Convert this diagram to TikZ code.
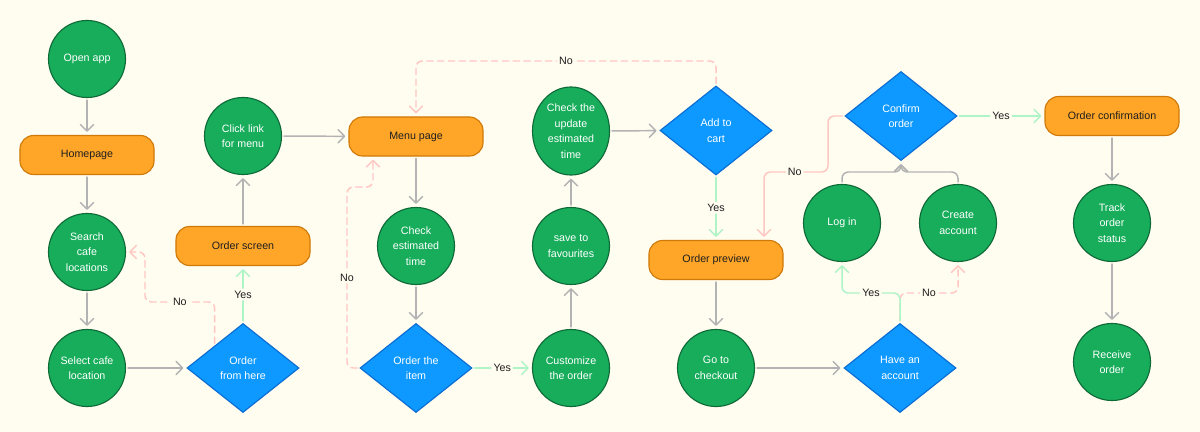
\documentclass[tikz,border=0pt]{standalone}
\usepackage{fontspec}
\setmainfont{Liberation Sans}
\usetikzlibrary{arrows.meta,shapes.geometric}

\definecolor{bgcol}{HTML}{FFFCF0}
\definecolor{grfill}{HTML}{17AD5B}
\definecolor{grline}{HTML}{0E6A37}
\definecolor{orfill}{HTML}{FFA629}
\definecolor{orline}{HTML}{CF7A08}
\definecolor{blfill}{HTML}{0D99FF}
\definecolor{blline}{HTML}{0A6CD2}
\definecolor{conngray}{HTML}{B3B3B3}
\definecolor{yesgreen}{HTML}{AFF4C6}
\definecolor{nopink}{HTML}{FFC7C2}
\definecolor{txtdark}{HTML}{1E1E1E}

\tikzset{
  base/.style={align=center, font=\fontsize{7.6}{11}\selectfont, line width=0.8pt, inner sep=0pt},
  circ/.style={base, circle, fill=grfill, draw=grline, text=white, minimum size=1.925cm},
  ell/.style={base, ellipse, fill=grfill, draw=grline, text=white, minimum width=1.925cm, minimum height=2.2cm},
  rnd/.style={base, rectangle, rounded corners=3.4mm, fill=orfill, draw=orline, text=txtdark, minimum width=3.35cm, minimum height=0.975cm},
  dia/.style={base, diamond, fill=blfill, draw=blline, text=white, minimum width=2.8cm, minimum height=2.225cm},
  conn/.style={line width=1.05pt, line cap=round, rounded corners=1.6mm,
    shorten <=0.5mm, shorten >=0.8mm,
    -{Straight Barb[length=1.6mm,width=3.3mm,line cap=round,line join=round]}},
  flow/.style={conn, draw=conngray},
  yesl/.style={conn, draw=yesgreen},
  nol/.style={conn, draw=nopink, dash pattern=on 1.6mm off 1.1mm},
  nosolid/.style={conn, draw=nopink},
  lbl/.style={fill=bgcol, text=txtdark, font=\fontsize{7.6}{11}\selectfont, inner sep=1.5pt, solid},
}

\begin{document}
\begin{tikzpicture}[x=0.025cm, y=-0.025cm]
  \fill[bgcol] (0,0) rectangle (1200,432);
  \useasboundingbox (0,0) rectangle (1200,432);

  % first column: finding a cafe
  \node[circ] (open)   at (87,59)  {Open app};
  \node[rnd]  (home)   at (87,155) {Homepage};
  \node[circ] (search) at (87,252) {Search\\cafe\\locations};
  \node[circ] (select) at (87,368) {Select cafe\\location};

  % ordering from the cafe
  \node[dia]  (ofh)     at (243,368) {Order\\from here};
  \node[rnd]  (oscreen) at (243,246) {Order screen};
  \node[circ] (click)   at (243,136) {Click link\\for menu};

  % menu
  \node[rnd]  (menu) at (416,136.5) {Menu page};
  \node[circ] (chk)  at (416,246)   {Check\\estimated\\time};
  \node[dia]  (oti)  at (416,368)   {Order the\\item};

  % customising
  \node[circ] (cust) at (571,368) {Customize\\the order};
  \node[circ] (save) at (571,246) {save to\\favourites};
  \node[ell]  (upd)  at (571,131) {Check the\\update\\estimated\\time};

  % cart and checkout
  \node[dia]  (cart)   at (716,130.5) {Add to\\cart};
  \node[rnd]  (prev)   at (716,260)   {Order preview};
  \node[circ] (chkout) at (716,368)   {Go to\\checkout};

  % account
  \node[dia]  (acct)   at (900,368) {Have an\\account};
  \node[circ] (login)  at (842,223) {Log in};
  \node[circ] (create) at (958,223) {Create\\account};
  \node[dia]  (conf)   at (901,116) {Confirm\\order};

  % confirmation and delivery
  \node[rnd]  (ocnf)  at (1112,116) {Order confirmation};
  \node[circ] (track) at (1112,223) {Track\\order\\status};
  \node[circ] (recv)  at (1112,362) {Receive\\order};

  % bend points
  \coordinate (b1) at (145,302);
  \coordinate (b2) at (347,187);
  \coordinate (b3) at (416,61);
  \coordinate (b4) at (828,172);
  \coordinate (b5) at (900,293);
  \coordinate (b6) at (901,172);

  % plain flow
  \draw[flow] (open) -- (home);
  \draw[flow] (home) -- (search);
  \draw[flow] (search) -- (select);
  \draw[flow] (select) -- (ofh);
  \draw[flow] (oscreen) -- (click);
  \draw[flow] (click) -- (menu);
  \draw[flow] (menu) -- (chk);
  \draw[flow] (chk) -- (oti);
  \draw[flow] (cust) -- (save);
  \draw[flow] (save) -- (upd);
  \draw[flow] (upd) -- (cart);
  \draw[flow] (prev) -- (chkout);
  \draw[flow] (chkout) -- (acct);
  \draw[flow] (login.north) |- (b6) -- (conf.south);
  \draw[flow] (create.north) |- (b6) -- (conf.south);
  \draw[flow] (ocnf) -- (track);
  \draw[flow] (track) -- (recv);

  % "No" branches
  \draw[nol] (ofh.north west) |- node[lbl,pos=0.75]{No} (b1) |- (search.east);
  \draw[nol] (oti.west) -| node[lbl,pos=0.75]{No} (b2) -| ([xshift=-1.075cm]menu.south);
  \draw[nol] (cart.north) |- node[lbl,pos=0.75]{No} (b3) -- (menu.north);
  \draw[nosolid] (conf.west) -| (b4) -| node[lbl,pos=0.26]{No} ([xshift=1.2cm]prev.north);
  \draw[nol] (acct.north) -- (b5) -| node[lbl,pos=0.25]{No} (create.south);

  % "Yes" branches
  \draw[yesl] (ofh) -- node[lbl]{Yes} (oscreen);
  \draw[yesl] (oti) -- node[lbl]{Yes} (cust);
  \draw[yesl] (cart) -- node[lbl]{Yes} (prev);
  \draw[yesl] (acct.north) -- (b5) -| node[lbl,pos=0.25]{Yes} (login.south);
  \draw[yesl] (conf) -- node[lbl]{Yes} (ocnf);
\end{tikzpicture}
\end{document}
